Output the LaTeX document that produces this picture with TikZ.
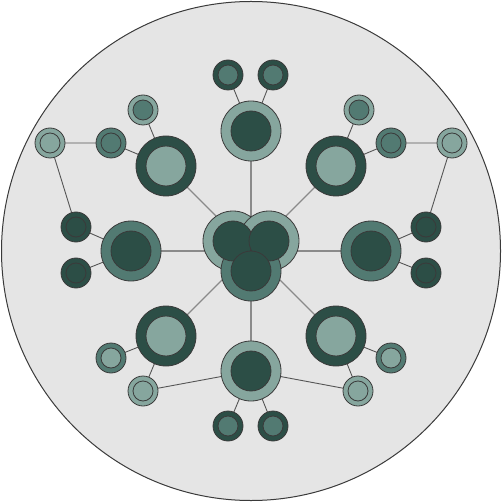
\documentclass[tikz,border=0pt]{standalone}
\begin{document}
\begin{tikzpicture}[x=1pt,y=-1pt,
  every node/.style={circle,inner sep=0pt,outer sep=0pt,draw=bordc,line width=0.8pt},
  bigo/.style={minimum size=60pt},
  bigi/.style={minimum size=40pt},
  smo/.style={minimum size=30pt},
  smi/.style={minimum size=20pt},
  spoke/.style={draw=spokec,line width=1.3pt},
  link/.style={draw=linkc,line width=0.9pt}]
\definecolor{dk}{HTML}{2C4E46}
\definecolor{md}{HTML}{527A72}
\definecolor{lt}{HTML}{86A69E}
\definecolor{bg}{HTML}{E5E5E5}
\definecolor{bordc}{HTML}{3A3A3A}
\definecolor{spokec}{HTML}{8A8A8A}
\definecolor{linkc}{HTML}{555555}
\useasboundingbox (0,0) rectangle (502,502);
\draw[fill=bg,draw=bordc,line width=1pt] (251,251) circle (249.5);
% centres
\coordinate (c) at (251,251);
\coordinate (pT) at (251,131);
\coordinate (pB) at (251,371);
\coordinate (pL) at (131,251);
\coordinate (pR) at (371,251);
\coordinate (pTL) at (166,166);
\coordinate (pTR) at (336,166);
\coordinate (pBL) at (166,336);
\coordinate (pBR) at (336,336);
\coordinate (sT1) at (228,75);
\coordinate (sT2) at (273,75);
\coordinate (sB1) at (228,426);
\coordinate (sB2) at (273,426);
\coordinate (sL1) at (76,227);
\coordinate (sL2) at (76,273);
\coordinate (sR1) at (426,227);
\coordinate (sR2) at (426,273);
\coordinate (a1) at (143,110);
\coordinate (a2) at (111,143);
\coordinate (a3) at (50,143);
\coordinate (b1) at (359,110);
\coordinate (b2) at (391,143);
\coordinate (b3) at (452,143);
\coordinate (d1) at (111,358);
\coordinate (d2) at (143,391);
\coordinate (e1) at (391,358);
\coordinate (e2) at (358,391);
% spokes
\foreach \p in {pT,pB,pL,pR,pTL,pTR,pBL,pBR} \draw[spoke] (c) -- (\p);
% links
\draw[link] (pT) -- (sT1) (pT) -- (sT2) (pB) -- (sB1) (pB) -- (sB2);
\draw[link] (pL) -- (sL1) (pL) -- (sL2) (pR) -- (sR1) (pR) -- (sR2);
\draw[link] (pTL) -- (a1) (pTL) -- (a2) (a2) -- (a3) (a3) -- (sL1);
\draw[link] (pTR) -- (b1) (pTR) -- (b2) (b2) -- (b3) (b3) -- (sR1);
\draw[link] (pBL) -- (d1) (pBL) -- (d2) (d2) -- (pB);
\draw[link] (pBR) -- (e1) (pBR) -- (e2) (e2) -- (pB);
% satellites
\node[bigo,fill=lt] (nT) at (pT) {}; \node[bigi,fill=dk] (nTi) at (pT) {};
\node[bigo,fill=lt] (nB) at (pB) {}; \node[bigi,fill=dk] (nBi) at (pB) {};
\node[bigo,fill=md] (nL) at (pL) {}; \node[bigi,fill=dk] (nLi) at (pL) {};
\node[bigo,fill=md] (nR) at (pR) {}; \node[bigi,fill=dk] (nRi) at (pR) {};
\foreach \p in {pTL,pTR,pBL,pBR} {\node[bigo,fill=dk] (n\p) at (\p) {}; \node[bigi,fill=lt] (n\p i) at (\p) {};}
\foreach \p in {sT1,sT2,sB1,sB2} {\node[smo,fill=dk] (n\p) at (\p) {}; \node[smi,fill=md] (n\p i) at (\p) {};}
\foreach \p in {sL1,sL2,sR1,sR2} {\node[smo,fill=dk] (n\p) at (\p) {}; \node[smi,fill=dk] (n\p i) at (\p) {};}
\foreach \p in {a1,b1} {\node[smo,fill=lt] (n\p) at (\p) {}; \node[smi,fill=md] (n\p i) at (\p) {};}
\foreach \p in {a2,b2} {\node[smo,fill=md] (n\p) at (\p) {}; \node[smi,fill=md] (n\p i) at (\p) {};}
\foreach \p in {a3,b3,d2,e2} {\node[smo,fill=lt] (n\p) at (\p) {}; \node[smi,fill=lt] (n\p i) at (\p) {};}
\foreach \p in {d1,e1} {\node[smo,fill=md] (n\p) at (\p) {}; \node[smi,fill=lt] (n\p i) at (\p) {};}
% centre cluster
\node[bigo,fill=lt] (cTL) at (233,241) {};
\node[bigo,fill=lt] (cTR) at (269,241) {};
\node[bigo,fill=md] (cB) at (251,271) {};
\node[bigi,fill=dk] (cTLi) at (233,241) {};
\node[bigi,fill=dk] (cTRi) at (269,241) {};
\node[bigi,fill=dk] (cBi) at (251,271) {};
\end{tikzpicture}
\end{document}
